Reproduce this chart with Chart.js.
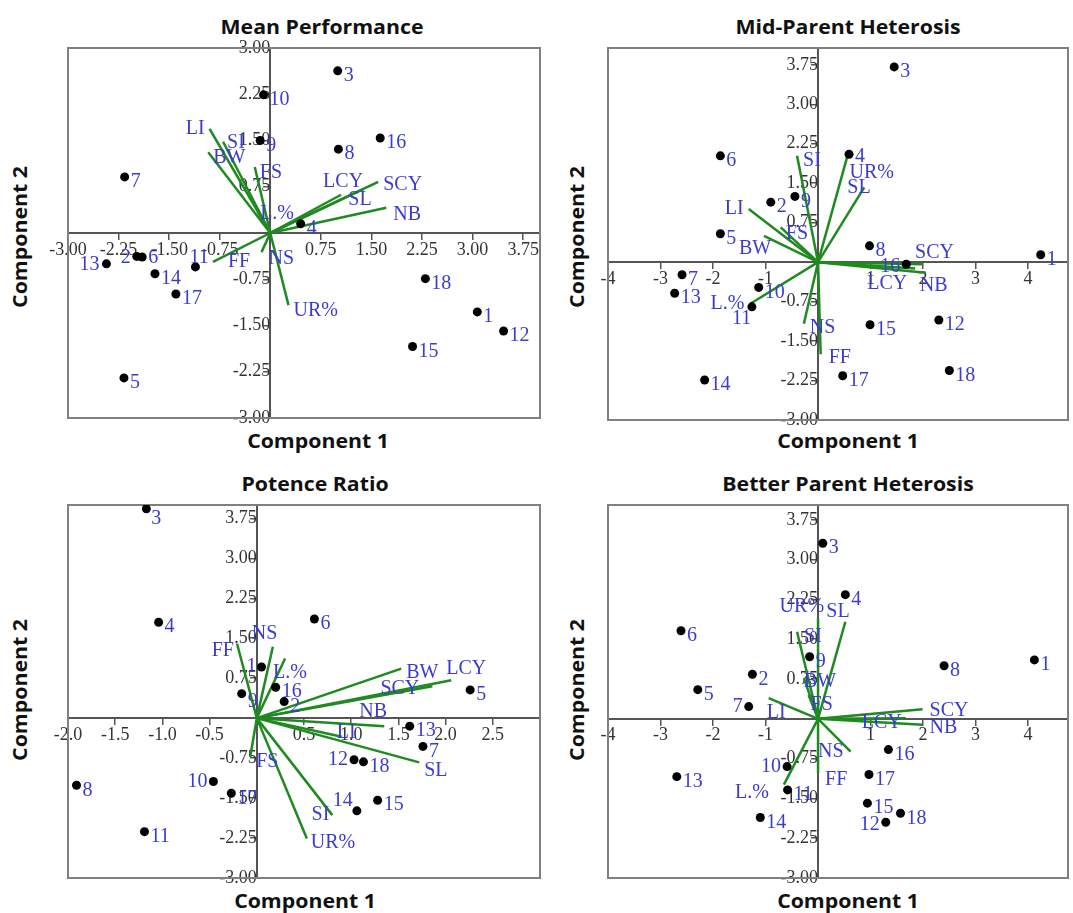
<!DOCTYPE html>
<html><head><meta charset="utf-8">
<script src="https://cdn.jsdelivr.net/npm/chart.js@4.4.1/dist/chart.umd.min.js"></script>
<style>
body{margin:0;background:#fff;width:1073px;height:913px;position:relative;overflow:hidden}
canvas{position:absolute}
.t{position:absolute;font:bold 19px "Open Sans",'Liberation Sans',sans-serif;color:#111;white-space:nowrap;transform:translate(-50%,-50%) scaleX(1.12)}
.r{transform:translate(-50%,-50%) rotate(-90deg) scaleX(1.12)}
</style></head><body>
<div class="t" style="left:322px;top:27px">Mean Performance</div>
<div class="t" style="left:848px;top:27px">Mid-Parent Heterosis</div>
<div class="t" style="left:315px;top:484px">Potence Ratio</div>
<div class="t" style="left:848px;top:484px">Better Parent Heterosis</div>
<div class="t" style="left:318px;top:441px">Component 1</div>
<div class="t" style="left:848px;top:441px">Component 1</div>
<div class="t" style="left:305px;top:901px">Component 1</div>
<div class="t" style="left:848px;top:901px">Component 1</div>
<div class="t r" style="left:20px;top:237px">Component 2</div>
<div class="t r" style="left:577px;top:237px">Component 2</div>
<div class="t r" style="left:20px;top:690px">Component 2</div>
<div class="t r" style="left:577px;top:690px">Component 2</div>
<script>
// ---------- data ----------
const genotypes = ['1','2','3','4','5','6','7','8','9','10','11','12','13','14','15','16','17','18'];
const traits = ['LI','SI','BW','FS','L.%','LCY','SCY','SL','NB','FF','NS','UR%'];

// Mean Performance
const mpGenX = [3.07,-1.98,1.00,0.45,-2.17,-1.90,-2.16,1.01,-0.15,-0.10,-1.11,3.46,-2.43,-1.71,2.11,1.63,-1.40,2.30];
const mpGenY = [-1.28,-0.38,2.63,0.15,-2.35,-0.39,0.91,1.36,1.50,2.24,-0.55,-1.59,-0.50,-0.66,-1.84,1.54,-0.99,-0.74];
const mpTraitX = [-0.90,-0.70,-0.92,-0.23,-0.18,1.05,1.60,1.38,1.72,-0.85,-0.13,0.27];
const mpTraitY = [1.69,1.48,1.31,1.07,0.34,0.62,0.83,0.71,0.41,-0.47,-0.31,-1.17];
const mpXTicks = [-3,-2.25,-1.5,-0.75,0,0.75,1.5,2.25,3,3.75];
const mpYTicks = [-3,-2.25,-1.5,-0.75,0,0.75,1.5,2.25,3];

// Mid-Parent Heterosis
const mphGenX = [4.24,-0.90,1.45,0.59,-1.86,-1.86,-2.59,0.98,-0.44,-1.13,-1.26,2.30,-2.73,-2.16,0.99,1.68,0.47,2.50];
const mphGenY = [0.14,1.14,3.71,2.05,0.54,2.02,-0.24,0.31,1.25,-0.48,-0.85,-1.10,-0.59,-2.24,-1.19,-0.04,-2.16,-2.06];
const mphTraitX = [-1.32,-0.40,-1.03,-0.71,-1.29,1.85,2.00,0.88,2.05,0.05,-0.27,0.56];
const mphTraitY = [1.01,2.02,0.50,0.66,-0.79,-0.12,-0.04,1.42,-0.20,-1.75,-1.17,2.02];
const mphXTicks = [-4,-3,-2,-1,0,1,2,3,4];
const mphYTicks = [-3,-2.25,-1.5,-0.75,0,0.75,1.5,2.25,3,3.75];

// Potence Ratio
const prGenX = [0.05,0.29,-1.17,-1.04,2.26,0.61,1.76,-1.91,-0.16,-0.46,-1.19,1.03,1.62,1.06,1.28,0.20,-0.27,1.13];
const prGenY = [0.96,0.31,3.93,1.80,0.53,1.86,-0.53,-1.26,0.46,-1.19,-2.13,-0.78,-0.15,-1.74,-1.54,0.58,-1.41,-0.82];
const prTraitX = [0.90,0.80,1.53,-0.07,0.30,2.06,1.86,1.72,1.35,-0.21,0.17,0.53];
const prTraitY = [-0.35,-1.82,0.93,-0.73,1.12,0.71,0.60,-0.83,-0.15,1.40,1.34,-2.26];
const prXTicks = [-2,-1.5,-1,-0.5,0,0.5,1,1.5,2,2.5];
const prYTicks = [-3,-2.25,-1.5,-0.75,0,0.75,1.5,2.25,3,3.75];

// Better Parent Heterosis
const bphGenX = [4.12,-1.25,0.09,0.52,-2.29,-2.61,-1.32,2.40,-0.16,-0.59,-0.58,1.29,-2.69,-1.10,0.94,1.34,0.97,1.57];
const bphGenY = [1.11,0.84,3.31,2.34,0.55,1.66,0.23,1.00,1.17,-0.90,-1.34,-1.95,-1.09,-1.86,-1.59,-0.58,-1.05,-1.78];
const bphTraitX = [-0.94,-0.40,-0.27,-0.18,-0.65,1.67,1.99,0.52,1.99,0.00,0.62,0.00];
const bphTraitY = [0.39,1.64,0.77,0.45,-1.24,0.01,0.18,1.83,-0.11,-1.02,-0.62,1.90];
const bphXTicks = [-4,-3,-2,-1,0,1,2,3,4];
const bphYTicks = [-3,-2.25,-1.5,-0.75,0,0.75,1.5,2.25,3,3.75];

// ---------- styles / layout ----------
const GREEN = '#1f8a1f';
const BLUE = '#3b3bd0';
const LABEL_FONT = '20px "Liberation Serif", "DejaVu Serif", serif';
Chart.defaults.font.family = 'Liberation Serif';
Chart.defaults.font.size = 18;
Chart.defaults.color = '#333';

const panels = [
  {genX:mpGenX, genY:mpGenY, trX:mpTraitX, trY:mpTraitY, xTicks:mpXTicks, yTicks:mpYTicks,
   xMin:-3, xMax:4, yMin:-3, yMax:3, xDec:2, yDec:2, left:38, top:18, w:507, h:430,
   genLbl:{'13':[-7,1,'right'],'11':[-6,-9,'left'],'2':[-6,1,'right'],'6':[6,1,'left']},
   trLbl:{'LI':[-5,0,'right'],'SI':[4,1,'left'],'L.%':[2,2,'left'],'LCY':[-18,-13,'left'],'SCY':[5,3,'left'],
          'SL':[-15,11,'left'],'NB':[7,7,'left'],'FF':[15,0,'left'],'NS':[7,7,'left']}},
  {genX:mphGenX, genY:mphGenY, trX:mphTraitX, trY:mphTraitY, xTicks:mphXTicks, yTicks:mphYTicks,
   xMin:-4, xMax:4.76, yMin:-3, yMax:4.07, xDec:0, yDec:2, left:578, top:18, w:495, h:432,
   genLbl:{'16':[-6,2,'right'],'11':[-20,12,'left'],'4':[6,2,'left']},
   trLbl:{'LI':[-5,0,'right'],'SI':[6,5,'left'],'BW':[-25,13,'left'],'L.%':[-6,0,'right'],'LCY':[-48,15,'left'],
          'SCY':[-8,-12,'left'],'NB':[-6,13,'left'],'SL':[-17,0,'left'],'UR%':[2,17,'left'],'NS':[6,4,'left'],'FF':[8,4,'left']}},
  {genX:prGenX, genY:prGenY, trX:prTraitX, trY:prTraitY, xTicks:prXTicks, yTicks:prYTicks,
   xMin:-2, xMax:3, yMin:-3, yMax:4, xDec:1, yDec:2, left:38, top:475, w:507, h:433,
   genLbl:{'10':[-6,0,'right'],'12':[-6,0,'right'],'14':[-4,-10,'right'],'1':[-5,0,'right'],'9':[6,8,'left'],'3':[5,10,'left']},
   trLbl:{'FF':[-3,7,'right'],'NS':[-21,-13,'left'],'L.%':[-12,14,'left'],'BW':[5,4,'left'],'LCY':[-5,-12,'left'],
          'SCY':[-52,3,'left'],'NB':[-25,-14,'left'],'LI':[-5,-4,'left'],'SL':[5,8,'left'],'FS':[6,5,'left'],
          'SI':[-3,0,'right'],'UR%':[4,4,'left']}},
  {genX:bphGenX, genY:bphGenY, trX:bphTraitX, trY:bphTraitY, xTicks:bphXTicks, yTicks:bphYTicks,
   xMin:-4, xMax:4.76, yMin:-3, yMax:4.03, xDec:0, yDec:2, left:578, top:475, w:495, h:433,
   genLbl:{'7':[-6,0,'right'],'10':[-6,0,'right'],'12':[-6,2,'right']},
   trLbl:{'UR%':[6,-11,'right'],'SL':[-19,-10,'left'],'SI':[7,5,'left'],'BW':[0,4,'left'],'FS':[2,10,'left'],
          'LI':[-2,15,'left'],'SCY':[7,1,'left'],'NB':[7,3,'left'],'LCY':[-44,4,'left'],'NS':[-7,0,'right'],
          'FF':[7,7,'left'],'L.%':[-15,8,'right']}}
];

const framePlugin = {
  id:'frame',
  beforeDatasetsDraw(chart){
    const a = chart.chartArea, c = chart.ctx;
    c.save(); c.strokeStyle = '#808080'; c.lineWidth = 2;
    c.strokeRect(a.left, a.top, a.right - a.left, a.bottom - a.top);
    c.restore();
  }
};

const labelPlugin = {
  id:'labels',
  afterDatasetsDraw(chart){
    const p = chart.$panel;
    if (!p) return;
    const c = chart.ctx;
    c.save(); c.font = LABEL_FONT; c.fillStyle = BLUE; c.textBaseline = 'middle';
    chart.data.datasets.forEach((ds, i) => {
      const meta = chart.getDatasetMeta(i);
      if (ds.kind === 'vec') {
        const el = meta.data[1];
        const o = p.trLbl[ds.label] || [5,6,'left'];
        c.textAlign = o[2];
        c.fillText(ds.label, el.x + o[0], el.y + o[1]);
      } else {
        meta.data.forEach((el, j) => {
          const name = genotypes[j];
          const o = p.genLbl[name] || [6,5,'left'];
          c.textAlign = o[2];
          c.fillText(name, el.x + o[0], el.y + o[1]);
        });
      }
    });
    c.restore();
  }
};

function fmt(v, d){ return v === 0 ? '' : Number(v).toFixed(d); }

function axisOpts(p, which){
  const isX = which === 'x';
  const tickVals = isX ? p.xTicks : p.yTicks;
  const dec = isX ? p.xDec : p.yDec;
  return {
    type:'linear',
    position: isX ? {y:0} : {x:0},
    min: isX ? p.xMin : p.yMin,
    max: isX ? p.xMax : p.yMax,
    afterBuildTicks: s => { s.ticks = tickVals.map(v => ({value:v})); },
    ticks:{autoSkip:false, maxRotation:0, padding:0, color:'#333',
           font:{family:'Liberation Serif', size:18},
           callback: v => fmt(v, dec)},
    grid:{drawOnChartArea:false, drawTicks:true, tickLength:6, color:'#555', lineWidth:1.5},
    border:{display:true, color:'#555', width:2}
  };
}

panels.forEach(p => {
  const cv = document.createElement('canvas');
  cv.width = p.w; cv.height = p.h;
  cv.style.left = p.left + 'px'; cv.style.top = p.top + 'px';
  cv.style.width = p.w + 'px'; cv.style.height = p.h + 'px';
  document.body.appendChild(cv);
  const datasets = [];
  datasets.push({label:'genotypes', kind:'gen',
    data: p.genX.map((x, i) => ({x:x, y:p.genY[i]})),
    pointRadius:4.5, pointBackgroundColor:'#000', pointBorderColor:'#000', pointBorderWidth:0, showLine:false});
  traits.forEach((t, i) => {
    datasets.push({label:t, kind:'vec', data:[{x:0,y:0},{x:p.trX[i], y:p.trY[i]}],
      showLine:true, borderColor:GREEN, borderWidth:2.5, pointRadius:0, fill:false});
  });
  new Chart(cv, {
    type:'scatter',
    data:{datasets},
    options:{
      responsive:false, animation:false, devicePixelRatio:1,
      layout:{padding:{left:30, top:30, right:5, bottom:30}},
      plugins:{legend:{display:false}, tooltip:{enabled:false}},
      scales:{x:axisOpts(p,'x'), y:axisOpts(p,'y')}
    },
    plugins:[{id:'setpanel', beforeInit(c){ c.$panel = p; }}, framePlugin, labelPlugin]
  });
});
</script>
</body></html>
